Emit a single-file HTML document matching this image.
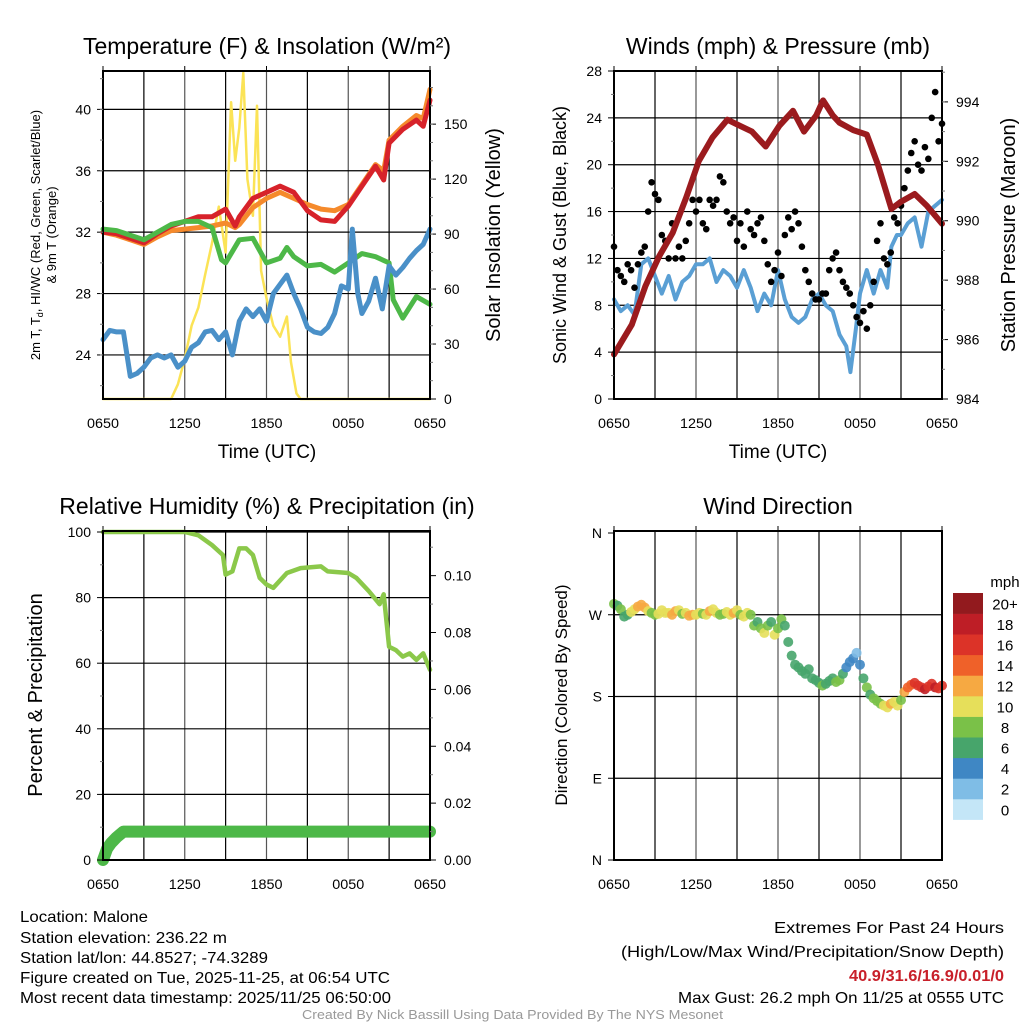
<!DOCTYPE html>
<html><head><meta charset="utf-8"><style>
html,body{margin:0;padding:0;background:#fff;}
svg{display:block;font-family:"Liberation Sans",sans-serif;}
.tk{font-size:14px;}
.ft{font-size:16px;}
</style></head><body>
<svg id="chart" width="1024" height="1024" viewBox="0 0 1024 1024" xmlns="http://www.w3.org/2000/svg">
<g id="g"></g>
<g class="ft">
<text x="20" y="922" textLength="128" lengthAdjust="spacingAndGlyphs">Location: Malone</text>
<text x="20" y="943" textLength="207" lengthAdjust="spacingAndGlyphs">Station elevation: 236.22 m</text>
<text x="20" y="963" textLength="248" lengthAdjust="spacingAndGlyphs">Station lat/lon: 44.8527; -74.3289</text>
<text x="20" y="983" textLength="370" lengthAdjust="spacingAndGlyphs">Figure created on Tue, 2025-11-25, at 06:54 UTC</text>
<text x="20" y="1003" textLength="371" lengthAdjust="spacingAndGlyphs">Most recent data timestamp: 2025/11/25 06:50:00</text>
<text x="774" y="933" textLength="230" lengthAdjust="spacingAndGlyphs">Extremes For Past 24 Hours</text>
<text x="621" y="957" textLength="383" lengthAdjust="spacingAndGlyphs">(High/Low/Max Wind/Precipitation/Snow Depth)</text>
<text x="849" y="981" textLength="155" lengthAdjust="spacingAndGlyphs" fill="#c8202a" font-weight="bold">40.9/31.6/16.9/0.01/0</text>
<text x="678" y="1003" textLength="326" lengthAdjust="spacingAndGlyphs">Max Gust: 26.2 mph On 11/25 at 0555 UTC</text>
<text x="302" y="1019" textLength="421" lengthAdjust="spacingAndGlyphs" fill="#999" font-size="13">Created By Nick Bassill Using Data Provided By The NYS Mesonet</text>
</g>
</svg>
<script>
// ---- data (hours since 0650 UTC) ----
const xTickLabels = ["0650","1250","1850","0050","0650"];
const tempH = [0,1,2,3,4,5,6,7,8,9,9.7,10,11,12,13,14,15,16,17,18,19,20,20.6,21,22,23,23.5,24];
const tempRed = [32.0,31.9,31.6,31.3,31.9,32.4,32.7,33.0,33.0,33.5,32.4,33.0,34.2,34.6,35.0,34.6,33.4,32.8,32.7,33.7,35.0,36.3,35.4,37.8,38.7,39.3,38.9,40.6];
const tempOrange = [32.0,31.8,31.5,31.2,31.7,32.1,32.2,32.3,32.4,32.6,32.3,32.5,33.6,34.2,34.6,34.2,33.8,33.5,33.4,33.8,35.1,36.4,36.0,38.0,38.9,39.6,39.4,41.3];
const greenH = [0,1,2,3,4,5,6,7,8,8.7,9,10,11,12,13,13.5,14,15,16,17,18,19,20,21,21.3,22,23,24];
const tempGreen = [32.2,32.1,31.8,31.5,32.0,32.5,32.7,32.7,32.3,30.2,30.0,31.5,31.6,30.0,30.3,31.0,30.4,29.8,29.9,29.4,30.0,30.6,30.4,30.0,27.6,26.4,27.8,27.3];
const blueH = [0,0.5,1,1.5,2,2.5,3,3.5,4,4.5,5,5.5,6,6.5,7,7.5,8,8.5,9,9.5,10,10.5,11,11.5,12,12.5,13,13.5,14,14.5,15,15.5,16,16.5,17,17.5,18,18.3,18.7,19,19.5,20,20.5,21,21.5,22,22.5,23,23.5,24];
const tempBlue = [25.0,25.6,25.5,25.5,22.6,22.8,23.2,23.8,24.0,23.8,24.0,23.2,23.6,24.5,24.8,25.5,25.6,25.0,25.5,24.0,26.2,27.0,26.5,27.0,26.2,28.0,28.6,29.2,28.0,27.0,25.8,25.5,25.4,25.8,26.7,28.5,28.3,32.2,28.0,26.7,27.5,29.0,27.0,29.8,29.2,29.7,30.3,30.8,31.2,32.2];
const solarH = [0,5,5.5,6,6.5,7,7.5,8,8.5,9,9.4,9.7,10,10.3,10.6,11,11.3,11.6,12,12.5,13,13.5,13.8,14.2,14.5,24];
const solarVals = [0,0,8,22,40,50,68,85,105,80,162,130,148,178,120,100,160,70,55,40,34,45,20,3,0,0];
const presH = [0,1.3,2.3,3.3,4.3,5.3,6.2,7.2,8.3,9.2,10.1,11.1,12.1,13.1,13.9,14.8,15.3,16,16.5,17.5,18.5,19.3,20.3,21,22,22.9,24];
const presVals = [985.5,986.5,987.8,988.8,989.6,990.8,992.0,992.8,993.4,993.2,993.0,992.5,993.2,993.7,993.0,993.55,994.05,993.55,993.3,993.05,992.9,991.9,990.4,990.64,990.9,990.5,989.9];
const windH = [0,0.5,1,1.5,2,2.5,3,3.5,4,4.5,5,5.5,6,6.5,7,7.5,8,8.5,9,9.5,10,10.5,11,11.5,12,12.5,13,13.5,14,14.5,15,15.5,16,16.5,17,17.3,17.7,18,18.5,19,19.5,20,20.3,20.7,21,21.5,22,22.5,23,23.5,24];
const windVals = [8.5,7.5,8,7.2,11.5,12,10.5,9,10.5,8.5,10,10.5,11.5,11.5,12,10,11,10.5,9.5,11,9.5,7.5,9,8,11,8.5,7,6.5,7,8.5,9,8,7.5,5.5,4.5,2.3,6,9,11,9,11,9.5,13,14,14,15,15.5,13,16,16.5,17];
const gustVals = [13,11,10.5,10,11.5,11,9.5,11.5,12.5,13,16,18.5,17.5,17,14,13.5,12,15,12,13,12,13.5,15,17,16,17,15,14.5,17,16.5,17,19,18.5,16,15,15.5,13.5,15,13,16,14.5,14,15,15.5,13.5,11.5,10,11,12.5,10.5,14,15.5,14.5,16,15,13,11,10,9,8.5,8.5,9,9,11,12,12.5,11,10,9.5,9,8,7,6.5,7.5,6,8,10,13.5,15,12,11.5,12.5,15.5,15,16.5,18,19.5,21,22,20,19.5,21.5,20.5,24,26.2,22,23.5];
const rhH = [0,6,7,8,8.8,9,9.5,10,10.5,11,11.5,12,12.5,13.5,14.5,16,16.5,18,18.6,19.5,20.3,20.6,21,21.5,22,22.5,23,23.5,24];
const rhVals = [100,100,99,96,93,87,88,95,95,93,86,84,83,87.5,89,89.5,88,87.5,86,82,78,81,65,64,62,63,61,63,58];
const precH = [0,0.3,0.6,1,1.5,24];
const precVals = [0,0.004,0.006,0.008,0.01,0.01];
const dirVals = [282,280,276,268,270,273,276,279,281,278,274,272,270,271,275,272,272,270,274,275,271,272,269,270,270,272,271,270,274,276,272,270,271,273,270,272,275,270,268,272,270,
 258,262,255,250,258,262,248,255,265,258,
 240,225,215,212,208,205,210,200,
 198,195,192,194,197,200,196,198,
 205,212,218,222,228,215,
 200,190,182,178,175,172,
 170,168,172,174,170,176,185,
 190,193,195,192,190,188,191,194,190,189,192];
const spdVals = [8,7,9,6,7,10,11,12,13,12,11,8,9,10,11,10,11,12,13,10,9,11,12,12,11,10,9,10,12,11,10,9,8,10,11,12,10,9,11,10,8,
 8,7,9,10,8,7,11,8,9,7,
 7,6,6,7,6,6,7,6,
 6,7,8,7,6,7,8,9,
 6,5,4,4,3,5,
 7,8,7,8,9,8,
 10,11,12,10,11,9,12,
 14,15,16,17,16,18,17,16,18,17,16];
const cbLabels = ["0","2","4","6","8","10","12","14","16","18","20+"];
const cbColors = ["#c4e6f7","#7fbde6","#3f87c4","#47a56b","#7ac148","#e6df5a","#f6a942","#ef6129","#dc3328","#be1e26","#921a1e"];

const NS="http://www.w3.org/2000/svg";
const root=document.getElementById('g');
function el(tag,attrs,parent,txt){const e=document.createElementNS(NS,tag);for(const k in attrs)e.setAttribute(k,attrs[k]);if(txt!==undefined)e.textContent=txt;(parent||root).appendChild(e);return e;}
function scale(d0,d1,r0,r1){return v=>r0+(v-d0)/(d1-d0)*(r1-r0);}
function pathD(xs,ys,sx,sy){return xs.map((h,i)=>(i?'L':'M')+sx(h).toFixed(1)+' '+sy(ys[i]).toFixed(1)).join(' ');}

function panel(name,x0,y0,w,h,title,ttlX){
  const g=el('g',{},root);
  
  
  const sx=scale(0,24,x0,x0+w);
  const t=el('text',{x:ttlX,y:y0-17,'text-anchor':'middle','font-size':'23'},g,title);
  
  
  for(let k=1;k<8;k++){const l=el('line',{x1:sx(k*3),x2:sx(k*3),y1:y0,y2:y0+h,stroke:k%2?'#000':'#555','stroke-width':1.2},g);
    
    }
  xTickLabels.forEach((lab,i)=>{const xx=sx(i*6);
    el('line',{x1:xx,x2:xx,y1:y0-5,y2:y0,stroke:'#000'},g);
    const tl=el('text',{x:xx,y:y0+h+29,'text-anchor':'middle',class:'tk',textLength:'32',lengthAdjust:'spacingAndGlyphs'},g,lab);
    
    });
  return {g,sx};
}
function frame(g,x0,y0,w,h){const r=el('rect',{x:x0,y:y0,width:w,height:h,fill:'none',stroke:'#000','stroke-width':2},g);
  
  }
function yAxis(g,x,ticks,labels,sy,side,minor){
  ticks.forEach((v,i)=>{const yy=sy(v);
    el('line',{x1:side<0?x-6:x,x2:side<0?x:x+6,y1:yy,y2:yy,stroke:'#000'},g);
    const t=el('text',{x:side<0?x-12:x+14,y:yy+5,'text-anchor':side<0?'end':'start',class:'tk'},g,labels[i]);
    
    });
  (minor||[]).forEach(v=>{const yy=sy(v);el('line',{x1:side<0?x-3:x,x2:side<0?x:x+3,y1:yy,y2:yy,stroke:'#777'},g);});
}
function hgrid(g,x0,w,vals,sy){vals.forEach(v=>{const l=el('line',{x1:x0,x2:x0+w,y1:sy(v),y2:sy(v),stroke:'#000','stroke-width':1.2},g);
  
  });}
function axisTitle(g,x,y,txt,size,name){const t=el('text',{x:x,y:y,'text-anchor':'middle','font-size':size,transform:`rotate(-90 ${x} ${y})`},g,txt);
  
  return t;}
function line(g,xs,ys,sx,sy,color,wd,name){const p=el('path',{d:pathD(xs,ys,sx,sy),fill:'none',stroke:color,'stroke-width':wd,'stroke-linejoin':'round','stroke-linecap':'round'},g);
  
  }
function range(a,b,s){const r=[];for(let v=a;v<=b+1e-9;v+=s)r.push(+v.toFixed(4));return r;}

// ---- Panel 1: temperature ----
(function(){
 const X=103,Y=71,W=327,H=328;
 const {g,sx}=panel('temperature-panel',X,Y,W,H,'Temperature (F) & Insolation (W/m²)',267);
 const sy=scale(21.13,42.5,Y+H,Y), sr=scale(0,179,Y+H,Y);
 hgrid(g,X,W,[24,28,32,36,40],sy);
 line(g,solarH,solarVals,sx,sr,'#fbe356',2.5,'solar-insolation-line');
 line(g,tempH,tempOrange,sx,sy,'#f58a2c',5,'temp-9m-line');
 line(g,tempH,tempRed,sx,sy,'#d7222a',5,'temp-2m-line');
 line(g,greenH,tempGreen,sx,sy,'#4db848',5,'dewpoint-line');
 line(g,blueH,tempBlue,sx,sy,'#4a90c8',5,'windchill-line');
 frame(g,X,Y,W,H);
 yAxis(g,X,[24,28,32,36,40],['24','28','32','36','40'],sy,-1,range(22,42,2));
 yAxis(g,X+W,[0,30,60,90,120,150],['0','30','60','90','120','150'],sr,1,range(10,170,10));
 const t1=axisTitle(g,40,235,'2m T, T',13,'left-y-axis-title');
 el('tspan',{'font-size':'9',dy:'3'},t1,'d');
 el('tspan',{dy:'-3'},t1,', HI/WC (Red, Green, Scarlet/Blue)');
 axisTitle(g,56,235,'& 9m T (Orange)',13,'left-y-axis-title-2');
 axisTitle(g,500,235,'Solar Insolation (Yellow)',20,'right-y-axis-title');
 const xt=el('text',{x:267,y:458,'text-anchor':'middle','font-size':'19'},g,'Time (UTC)');
 
 
})();

// ---- Panel 2: winds & pressure ----
(function(){
 const X=614,Y=71,W=328,H=328;
 const {g,sx}=panel('wind-pressure-panel',X,Y,W,H,'Winds (mph) & Pressure (mb)',778);
 const sy=scale(0,28,Y+H,Y), sp=scale(984,995.04,Y+H,Y);
 hgrid(g,X,W,[4,8,12,16,20,24],sy);
 line(g,windH,windVals,sx,sy,'#5a9fd4',4,'sonic-wind-line');
 const n=gustVals.length;
 gustVals.forEach((v,i)=>{const c=el('circle',{cx:sx(i*24/(n-1)),cy:sy(v),r:3.3,fill:'#000'},g);
   
   });
 line(g,presH,presVals,sx,sp,'#9b1b1e',6,'pressure-line');
 frame(g,X,Y,W,H);
 yAxis(g,X,range(0,28,4),range(0,28,4).map(String),sy,-1,range(2,26,4));
 yAxis(g,X+W,[984,986,988,990,992,994],['984','986','988','990','992','994'],sp,1,range(985,995,1));
 axisTitle(g,566,235,'Sonic Wind & Gust (Blue, Black)',18,'left-y-axis-title');
 axisTitle(g,1015,235,'Station Pressure (Maroon)',20,'right-y-axis-title');
 const xt=el('text',{x:778,y:458,'text-anchor':'middle','font-size':'19'},g,'Time (UTC)');
 
 
})();

// ---- Panel 3: RH & precip ----
(function(){
 const X=103,Y=531,W=327,H=329;
 const {g,sx}=panel('humidity-precip-panel',X,Y,W,H,'Relative Humidity (%) & Precipitation (in)',267);
 const sy=scale(0,100,860,532), sp=scale(0,0.1157,Y+H,Y);
 hgrid(g,X,W,[20,40,60,80,100],sy);
 line(g,rhH,rhVals,sx,sy,'#8bc84a',4.5,'humidity-line');
 line(g,precH,precVals,sx,sp,'#4db848',12,'precip-line');
 frame(g,X,Y,W,H);
 yAxis(g,X,range(0,100,20),range(0,100,20).map(String),sy,-1,range(10,90,20));
 yAxis(g,X+W,range(0,0.1,0.02),range(0,0.1,0.02).map(v=>v.toFixed(2)),sp,1,range(0.01,0.11,0.02));
 axisTitle(g,42,695,'Percent & Precipitation',20,'left-y-axis-title');
})();

// ---- Panel 4: wind direction ----
(function(){
 const X=614,Y=531,W=328,H=329;
 const {g,sx}=panel('wind-direction-panel',X,Y,W,H,'Wind Direction',778);
 const sy=scale(0,360,860,533);
 hgrid(g,X,W,[90,180,270],sy);
 const n=dirVals.length;
 dirVals.forEach((d,i)=>{const ci=Math.min(10,Math.max(0,Math.floor(spdVals[i]/2)));
   const c=el('circle',{cx:sx(i*24/(n-1)),cy:sy(d),r:5,fill:cbColors[ci],'fill-opacity':0.9},g);
   
   });
 frame(g,X,Y,W,H);
 yAxis(g,X,[0,90,180,270,360],['N','E','S','W','N'],sy,-1,[]);
 axisTitle(g,567,695,'Direction (Colored By Speed)',17,'left-y-axis-title');
 const lg=el('g',{},g);
 
 
 const bh=20.6, top=593;
 cbColors.forEach((c,i)=>{const yy=top+(10-i)*bh;
   const r=el('rect',{x:953,y:yy,width:30,height:bh+0.3,fill:c},lg);
   
   
   const t=el('text',{x:1005,y:yy+bh/2+6,'text-anchor':'middle','font-size':'15'},lg,cbLabels[i]);
   
   });
 const u=el('text',{x:1005,y:587,'text-anchor':'middle','font-size':'15'},lg,'mph');
 
 
})();
</script>
</body></html>
